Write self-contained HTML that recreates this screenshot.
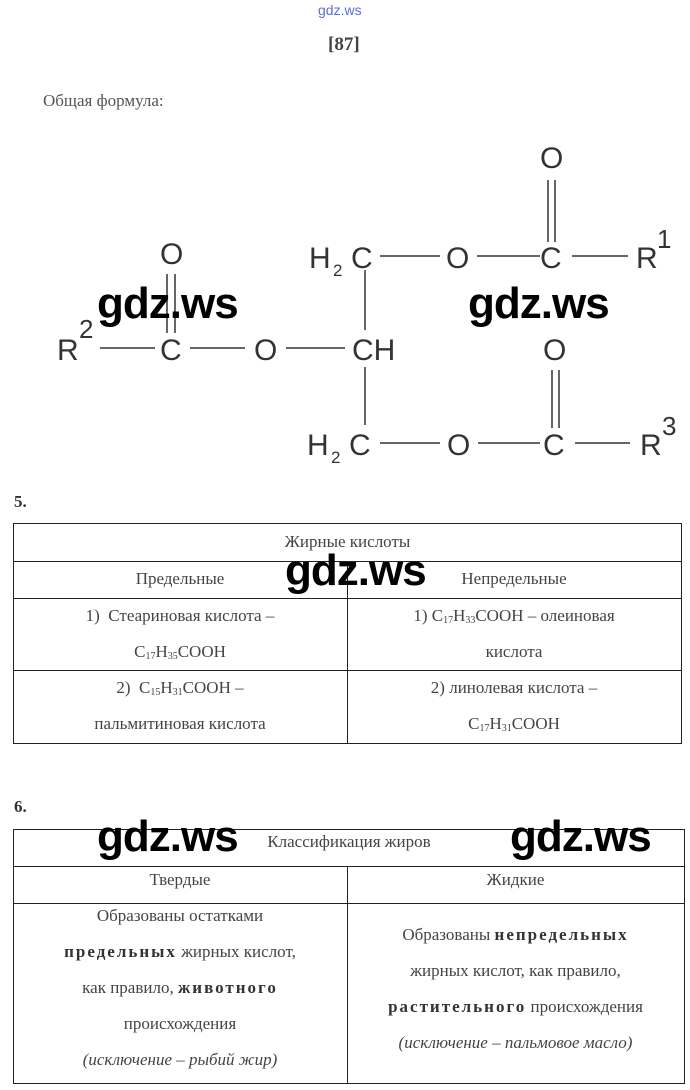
<!DOCTYPE html>
<html><head><meta charset="utf-8"><style>
body{margin:0;width:690px;height:1090px;background:#fff;position:relative;overflow:hidden;font-family:"Liberation Serif",serif;color:#333}
.a{position:absolute;white-space:nowrap}
.wm{position:absolute;font-family:"Liberation Sans",sans-serif;font-weight:bold;font-size:44px;color:#000;letter-spacing:-1px;line-height:1}
.hl{position:absolute;height:1px;background:#222}
.vl{position:absolute;width:1px;background:#222}
.c{position:absolute;text-align:center;font-size:17px;line-height:36px;color:#444}
.c sub{font-size:10px;line-height:0;vertical-align:-2px}
b{letter-spacing:2px;color:#333}
</style></head><body>
<div class="a" style="left:318px;top:2px;font-family:'Liberation Sans',sans-serif;font-size:14px;color:#5a6fd6">gdz.ws</div>
<div class="a" style="left:328px;top:34px;font-weight:bold;font-size:19px;color:#444">[87]</div>
<div class="a" style="left:43px;top:91px;font-size:17px;color:#555">Общая формула:</div>
<svg class="a" style="left:0;top:0" width="690" height="480" font-family="Liberation Sans, sans-serif" font-size="30" fill="#333" stroke="#333" stroke-width="1.5">
<g stroke="none">
<text x="309" y="268">H</text><text x="333" y="276" font-size="17">2</text><text x="351" y="268">C</text>
<text x="446" y="268">O</text><text x="540" y="268">C</text><text x="636" y="268">R</text><text x="657" y="248" font-size="26">1</text>
<text x="540" y="168">O</text>
<text x="57" y="360">R</text><text x="79" y="338" font-size="26">2</text><text x="160" y="360">C</text><text x="254" y="360">O</text><text x="352" y="360">CH</text>
<text x="160" y="264">O</text>
<text x="307" y="455">H</text><text x="331" y="463" font-size="17">2</text><text x="349" y="455">C</text>
<text x="447" y="455">O</text><text x="543" y="455">C</text><text x="640" y="455">R</text><text x="662" y="435" font-size="26">3</text>
<text x="543" y="360">O</text>
</g>
<line x1="380" y1="256" x2="440" y2="256"/><line x1="477" y1="256" x2="540" y2="256"/><line x1="572" y1="256" x2="628" y2="256"/>
<line x1="548" y1="180" x2="548" y2="242"/><line x1="555" y1="180" x2="555" y2="242"/>
<line x1="100" y1="348" x2="155" y2="348"/><line x1="190" y1="348" x2="245" y2="348"/><line x1="286" y1="348" x2="345" y2="348"/>
<line x1="167" y1="274" x2="167" y2="333"/><line x1="175" y1="274" x2="175" y2="333"/>
<line x1="365" y1="270" x2="365" y2="330"/><line x1="365" y1="367" x2="365" y2="425"/>
<line x1="380" y1="443" x2="440" y2="443"/><line x1="478" y1="443" x2="540" y2="443"/><line x1="575" y1="443" x2="630" y2="443"/>
<line x1="552" y1="370" x2="552" y2="428"/><line x1="559" y1="370" x2="559" y2="428"/>
</svg>
<div class="wm" style="left:97px;top:282px">gdz.ws</div>
<div class="wm" style="left:468px;top:282px">gdz.ws</div>

<div class="a" style="left:14px;top:492px;font-weight:bold;font-size:17px">5.</div>
<div class="hl" style="left:13px;width:669px;top:523px"></div>
<div class="hl" style="left:13px;width:669px;top:561px"></div>
<div class="hl" style="left:13px;width:669px;top:598px"></div>
<div class="hl" style="left:13px;width:669px;top:670px"></div>
<div class="hl" style="left:13px;width:669px;top:743px"></div>
<div class="vl" style="left:13px;top:523px;height:221px"></div>
<div class="vl" style="left:681px;top:523px;height:221px"></div>
<div class="vl" style="left:347px;top:561px;height:183px"></div>
<div class="c" style="left:13px;width:669px;top:524px">Жирные кислоты</div>
<div class="c" style="left:13px;width:334px;top:561px">Предельные</div>
<div class="c" style="left:347px;width:334px;top:561px">Непредельные</div>
<div class="c" style="left:13px;width:334px;top:598px">1)&nbsp; Стеариновая кислота –<br>C<sub>17</sub>H<sub>35</sub>COOH</div>
<div class="c" style="left:347px;width:334px;top:598px">1) C<sub>17</sub>H<sub>33</sub>COOH – олеиновая<br>кислота</div>
<div class="c" style="left:13px;width:334px;top:670px">2)&nbsp; C<sub>15</sub>H<sub>31</sub>COOH –<br>пальмитиновая кислота</div>
<div class="c" style="left:347px;width:334px;top:670px">2) линолевая кислота –<br>C<sub>17</sub>H<sub>31</sub>COOH</div>
<div class="wm" style="left:285px;top:549px">gdz.ws</div>

<div class="a" style="left:14px;top:797px;font-weight:bold;font-size:17px">6.</div>
<div class="hl" style="left:13px;width:672px;top:829px"></div>
<div class="hl" style="left:13px;width:672px;top:866px"></div>
<div class="hl" style="left:13px;width:672px;top:903px"></div>
<div class="hl" style="left:13px;width:672px;top:1083px"></div>
<div class="vl" style="left:13px;top:829px;height:255px"></div>
<div class="vl" style="left:684px;top:829px;height:255px"></div>
<div class="vl" style="left:347px;top:866px;height:218px"></div>
<div class="c" style="left:13px;width:672px;top:824px">Классификация жиров</div>
<div class="c" style="left:13px;width:334px;top:862px">Твердые</div>
<div class="c" style="left:347px;width:337px;top:862px">Жидкие</div>
<div class="c" style="left:13px;width:334px;top:898px">Образованы остатками<br><b>предельных</b> жирных кислот,<br>как правило, <b>животного</b><br>происхождения<br><i>(исключение – рыбий жир)</i></div>
<div class="c" style="left:347px;width:337px;top:917px">Образованы <b>непредельных</b><br>жирных кислот, как правило,<br><b>растительного</b> происхождения<br><i>(исключение – пальмовое масло)</i></div>
<div class="wm" style="left:97px;top:815px">gdz.ws</div>
<div class="wm" style="left:510px;top:815px">gdz.ws</div>
</body></html>
